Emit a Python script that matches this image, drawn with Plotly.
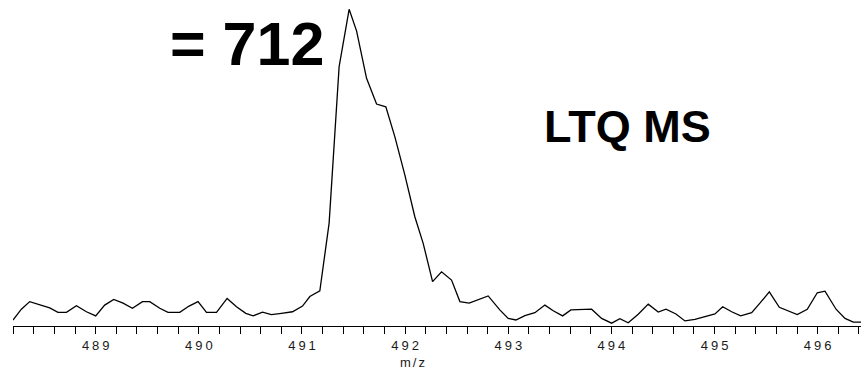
import plotly.graph_objects as go

# m/z values
mz = [488.198, 488.279, 488.360, 488.473, 488.554, 488.634, 488.716, 488.813, 488.910, 489.000,
      489.087, 489.175, 489.265, 489.356, 489.453, 489.524, 489.621, 489.701, 489.815, 489.905,
      489.992, 490.074, 490.171, 490.274, 490.365, 490.455, 490.526, 490.617, 490.704, 490.801,
      490.908, 491.005, 491.076, 491.173, 491.263, 491.360, 491.457, 491.529, 491.626, 491.723,
      491.813, 491.900, 491.997, 492.094, 492.175, 492.266, 492.353, 492.450, 492.531, 492.621,
      492.708, 492.805, 492.918, 492.999, 493.074, 493.161, 493.258, 493.355, 493.436, 493.527,
      493.607, 493.714, 493.808, 493.905, 494.002, 494.082, 494.163, 494.260, 494.357, 494.454,
      494.529, 494.626, 494.713, 494.810, 494.890, 495.004, 495.079, 495.166, 495.253, 495.360,
      495.440, 495.531, 495.628, 495.705, 495.802, 495.899, 495.996, 496.071, 496.178, 496.265,
      496.345, 496.420]

# relative abundance (%)
abundance = [1.9, 5.3, 7.7, 6.6, 5.7, 4.3, 4.3, 6.4, 4.5, 3.2,
             6.6, 8.4, 7.2, 5.6, 7.7, 7.7, 5.6, 4.3, 4.3, 6.3,
             7.7, 4.3, 4.3, 8.7, 6.1, 4.0, 3.2, 4.4, 3.6, 4.0,
             4.5, 6.3, 9.3, 11.1, 32.5, 81.9, 100.0, 93.2, 78.2, 70.1,
             69.2, 59.8, 47.7, 34.5, 26.1, 14.0, 17.1, 14.5, 7.7, 7.2,
             8.4, 9.5, 5.1, 2.4, 1.9, 3.3, 4.2, 6.6, 4.8, 3.2,
             5.1, 5.3, 5.3, 2.4, 0.9, 2.3, 1.0, 3.7, 6.9, 4.4,
             5.3, 3.8, 1.6, 2.1, 2.9, 3.8, 6.1, 4.5, 3.2, 4.2,
             7.2, 10.8, 5.9, 4.8, 3.6, 5.3, 10.5, 11.0, 5.3, 2.4,
             1.2, 1.2]

x_title = "m/z"
label_count = "= 712"
label_instr = "LTQ MS"

fig = go.Figure()
fig.add_trace(go.Scatter(x=mz, y=abundance, mode="lines",
                         line=dict(color="black", width=1.3),
                         hoverinfo="skip", showlegend=False))

fig.update_layout(
    width=861, height=369,
    margin=dict(l=13, r=0, t=0, b=43),
    paper_bgcolor="white", plot_bgcolor="white",
    font=dict(family="Liberation Sans, Arial, sans-serif", color="black"),
    xaxis=dict(range=[488.198, 496.42], showgrid=False, zeroline=False,
               showline=True, linecolor="black", linewidth=1.3,
               ticks="outside", ticklen=7, tickwidth=1.3, tickcolor="black",
               dtick=1, tick0=489,
               tickfont=dict(size=13, color="#1a1a1a"),
               minor=dict(dtick=0.2, tick0=489, ticks="outside", ticklen=7,
                          tickwidth=1.3, tickcolor="black", showgrid=False)),
    yaxis=dict(range=[0, 102.94], visible=False, showgrid=False, zeroline=False),
    annotations=[
        dict(text=x_title, xref="paper", yref="paper", x=(412 - 13) / 848, y=1 - 362 / 326,
             showarrow=False, font=dict(size=13, color="#1a1a1a"), xanchor="center", yanchor="middle"),
        dict(text="<b>" + label_count + "</b>", xref="paper", yref="paper",
             x=(247 - 13) / 848, y=1 - 44 / 326, showarrow=False,
             font=dict(size=61, color="black"), xanchor="center", yanchor="middle"),
        dict(text="<b>" + label_instr + "</b>", xref="paper", yref="paper",
             x=(627 - 13) / 848, y=1 - 127 / 326, showarrow=False,
             font=dict(size=45, color="black"), xanchor="center", yanchor="middle"),
    ],
)

post = """
function spaceLabels(){
  document.querySelectorAll('.xtick text').forEach(function(t){
    t.style.letterSpacing = '3px';
    t.setAttribute('dx', '1.5');
  });
  document.querySelectorAll('.annotation-text').forEach(function(t){
    if (t.textContent === 'm/z') { t.style.letterSpacing = '2px'; t.setAttribute('dx', '1'); }
  });
}
spaceLabels();
"""

fig.write_html("out.html", post_script=post)
